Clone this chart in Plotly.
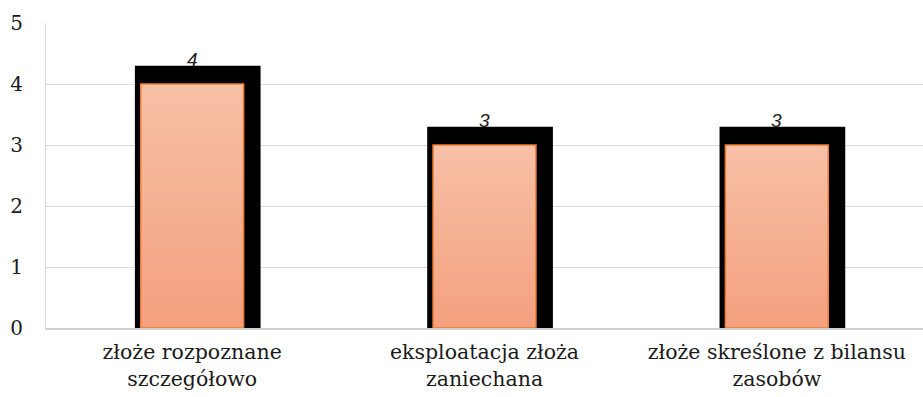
import plotly.graph_objects as go

# Liczba złóż według statusu
categories = [
    "złoże rozpoznane<br>szczegółowo",
    "eksploatacja złoża<br>zaniechana",
    "złoże skreślone z bilansu<br>zasobów",
]
values = [4, 3, 3]
y_ticks = [0, 1, 2, 3, 4, 5]

SERIF = "DejaVu Serif"
SHADOW_LIFT = 0.3          # how far the black shadow rises above each bar
N_SLICES = 40              # steps used to fake a vertical gradient fill
TOP_RGB = (247, 192, 166)
BOTTOM_RGB = (244, 160, 126)

fig = go.Figure()

# black shadow behind each bar, slightly wider and shifted right
fig.add_trace(go.Bar(
    x=categories,
    y=[v + SHADOW_LIFT for v in values],
    width=0.43, offset=-0.196,
    marker=dict(color="black", line=dict(width=0)),
    hoverinfo="skip", showlegend=False,
))

# gradient body: tallest (lightest) first, each shorter step drawn on top,
# so the steps overlap and no seams show between them
for k in range(N_SLICES, 0, -1):
    t = (k - 0.5) / N_SLICES
    rgb = tuple(round(b + (tp - b) * t) for b, tp in zip(BOTTOM_RGB, TOP_RGB))
    fig.add_trace(go.Bar(
        x=categories,
        y=[v * k / N_SLICES for v in values],
        width=0.352, offset=-0.176,
        marker=dict(color="rgb(%d,%d,%d)" % rgb, line=dict(width=0)),
        hoverinfo="skip", showlegend=False,
    ))

# orange outline over the gradient body
fig.add_trace(go.Bar(
    x=categories,
    y=values,
    width=0.352, offset=-0.176,
    marker=dict(color="rgba(0,0,0,0)", line=dict(color="#ED7D31", width=1.5)),
    showlegend=False,
))

# value labels
for c, v in zip(categories, values):
    fig.add_annotation(
        x=c, y=v + SHADOW_LIFT, text=str(v),
        showarrow=False, yanchor="bottom", yshift=-6,
        font=dict(family="Liberation Sans", size=19, color="#1a1a1a", style="italic"),
    )

fig.update_layout(
    width=923, height=397,
    margin=dict(l=46, r=0, t=23, b=69),
    barmode="overlay",
    plot_bgcolor="white", paper_bgcolor="white",
    font=dict(family=SERIF, size=20, color="#1a1a1a"),
)
fig.update_xaxes(
    showgrid=False, showline=True, linecolor="#CFCFCF", linewidth=1.5,
    ticks="", tickfont=dict(family=SERIF, size=20.5), ticklabelstandoff=5,
    range=[-0.5, 2.5],
)
fig.update_yaxes(
    range=[0, 5], tickvals=y_ticks, ticktext=[str(t) for t in y_ticks],
    showgrid=True, gridcolor="#D9D9D9", gridwidth=1,
    showline=True, linecolor="#D9D9D9", linewidth=1,
    zeroline=False, ticks="", ticklabelstandoff=18,
    tickfont=dict(family=SERIF, size=20),
)

fig.write_html("out.html")
